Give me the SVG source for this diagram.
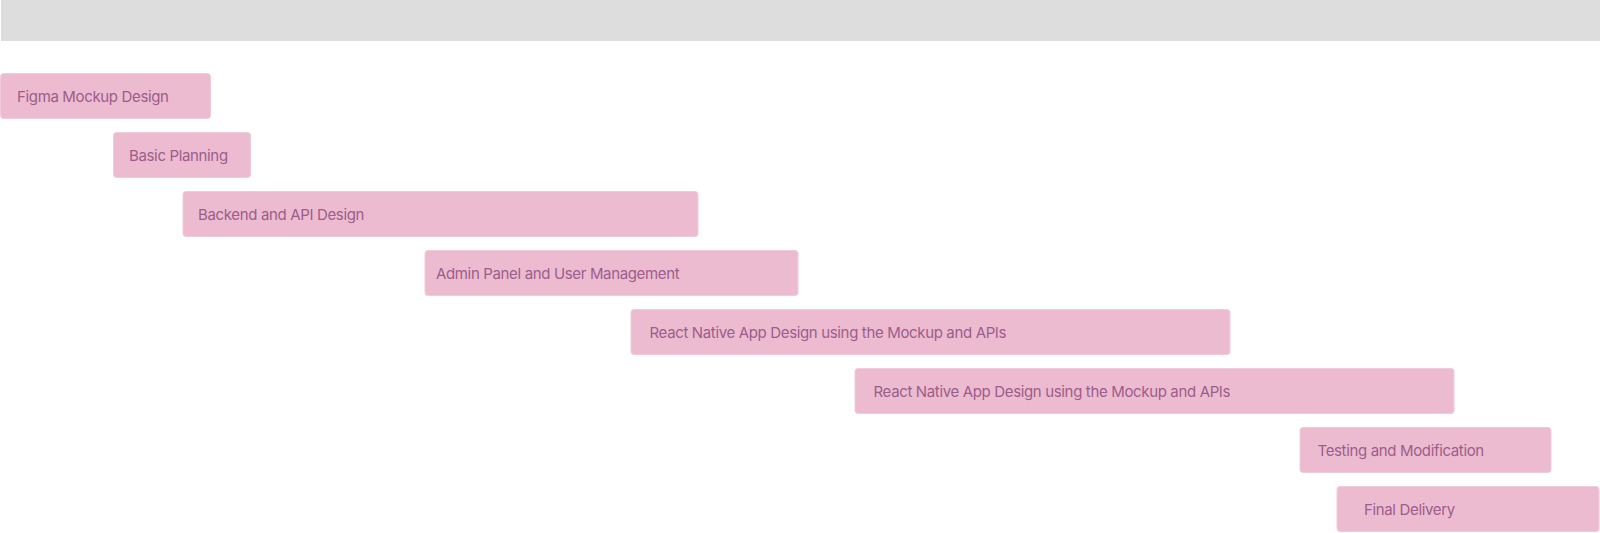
<svg xmlns="http://www.w3.org/2000/svg" width="1600" height="533" viewBox="0 0 1600 533">
<style>
.bar{fill:#ecbbcf;stroke:#f2cbdb;stroke-width:1}
.lbl{font-family:Inter,"Noto Sans","Liberation Sans",sans-serif;font-size:15px;letter-spacing:-0.35px;fill:#9c5d8c}
</style>
<rect x="0" y="0" width="1600" height="533" fill="#ffffff"/>
<rect id="header" x="1" y="0" width="1599" height="41" fill="#dddddd"/>
<g id="connectors"></g>
<g id="task1"><rect class="bar" x="0.5" y="73.5" width="210" height="45" rx="3"/><text class="lbl" x="17" y="102">Figma Mockup Design</text></g>
<g id="task2"><rect class="bar" x="113.5" y="132.5" width="137" height="45" rx="3"/><text class="lbl" x="129" y="161">Basic Planning</text></g>
<g id="task3"><rect class="bar" x="183" y="191.5" width="515" height="45" rx="3"/><text class="lbl" x="198" y="220">Backend and API Design</text></g>
<g id="task4"><rect class="bar" x="425" y="250.5" width="373" height="45" rx="3"/><text class="lbl" x="436" y="279">Admin Panel and User Management</text></g>
<g id="task5"><rect class="bar" x="631" y="309.5" width="599" height="45" rx="3"/><text class="lbl" x="649.5" y="338">React Native App Design using the Mockup and APIs</text></g>
<g id="task6"><rect class="bar" x="855" y="368.5" width="599" height="45" rx="3"/><text class="lbl" x="873.5" y="397">React Native App Design using the Mockup and APIs</text></g>
<g id="task7"><rect class="bar" x="1300" y="427.5" width="251" height="45" rx="3"/><text class="lbl" x="1317.5" y="456">Testing and Modification</text></g>
<g id="task8"><rect class="bar" x="1337" y="486.5" width="262" height="45" rx="3"/><text class="lbl" x="1364" y="515">Final Delivery</text></g>
</svg>
